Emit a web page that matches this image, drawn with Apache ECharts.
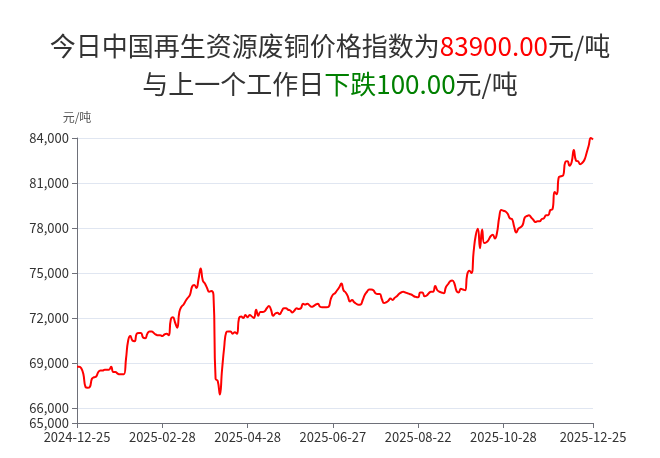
<!DOCTYPE html>
<html>
<head>
<meta charset="utf-8">
<script src="https://cdn.jsdelivr.net/npm/echarts@6/dist/echarts.min.js"></script>
<style>
html,body{margin:0;padding:0;background:#fff;}
#chart{width:660px;height:458px;}
</style>
</head>
<body>
<div id="chart"></div>
<script>
// Trading days (month -> days)
const tradingDays = [
  ["2024-12", [25,26,27,30,31]],
  ["2025-01", [2,3,6,7,8,9,10,13,14,15,16,17,20,21,22,23,24,27]],
  ["2025-02", [5,6,7,10,11,12,13,14,17,18,19,20,21,24,25,26,27,28]],
  ["2025-03", [3,4,5,6,7,10,11,12,13,14,17,18,19,20,21,24,25,26,27,28,31]],
  ["2025-04", [1,2,3,7,8,9,10,11,14,15,16,17,18,21,22,23,24,25,28,29,30]],
  ["2025-05", [6,7,8,9,12,13,14,15,16,19,20,21,22,23,26,27,28,29,30]],
  ["2025-06", [3,4,5,6,9,10,11,12,13,16,17,18,19,20,23,24,25,26,27,30]],
  ["2025-07", [1,2,3,4,7,8,9,10,11,14,15,16,17,18,21,22,23,24,25,28,29,30,31]],
  ["2025-08", [1,4,5,6,7,8,11,12,13,14,15,18,19,20,21,22,25,26,27,28,29]],
  ["2025-09", [1,2,3,4,5,8,9,10,11,12,15,16,17,18,19,22,23,24,25,26,29]],
  ["2025-10", [9,10,13,14,15,16,17,20,21,22,23,24,27,28,29,30,31]],
  ["2025-11", [3,4,5,6,7,10,11,12,13,14,17,18,19,20,21,24,25,26,27,28]],
  ["2025-12", [1,2,3,4,5,8,9,10,11,12,15,16,17,18,19,22,23,24,25]]
];
const categories = [];
tradingDays.forEach(([m, ds]) => ds.forEach(d => categories.push(m + "-" + String(d).padStart(2, "0"))));

const prices = [
  68750,68750,68650,68250,67400,67350,67400,67950,68050,68100,
  68400,68500,68500,68550,68550,68550,68750,68400,68400,68300,
  68250,68250,68250,69300,70500,70800,70500,70450,70950,71000,
  71000,70700,70650,70950,71100,71100,71000,70900,70850,70850,
  70800,70900,70950,70850,71900,72050,71700,71350,72400,72750,
  72900,73150,73350,73550,74100,74200,74000,74600,75300,74500,
  74300,74000,73750,73800,73550,67950,67800,66900,68500,70000,
  71050,71100,71100,70950,71050,70950,72000,72100,72000,72200,
  72050,72200,72100,72000,72550,72150,72400,72400,72450,72650,
  72800,72550,72150,72300,72350,72250,72450,72650,72650,72550,
  72500,72370,72500,72650,72600,72650,72950,72900,72950,72850,
  72750,72800,72900,72950,72750,72720,72720,72720,72750,73250,
  73550,73650,73850,74050,74300,73850,73700,73450,73100,73200,
  73050,72950,72880,72900,73200,73550,73750,73900,73900,73850,
  73650,73600,73600,73250,73000,73050,73150,73300,73200,73350,
  73450,73600,73700,73750,73700,73650,73600,73550,73450,73400,
  73380,73700,73700,73450,73500,73650,73750,73750,74130,73850,
  73750,73700,73650,74050,74250,74450,74500,74300,73800,73700,
  73950,73900,73850,74900,75150,75000,76400,77500,77950,76650,
  77900,77000,77050,77200,77450,77550,77300,77700,78700,79200,
  79150,79100,78950,78650,78600,78100,77700,77950,78050,78200,
  78700,78800,78850,78700,78550,78400,78450,78450,78600,78650,
  78850,78850,79200,79250,80400,80250,81400,81450,81500,82400,
  82450,82150,82400,83200,82500,82450,82250,82350,82550,83000,
  83500,84000,83900
];

const tickLabels = ["2024-12-25","2025-02-28","2025-04-28","2025-06-27","2025-08-22","2025-10-28","2025-12-25"];
const todayPrice = "83900.00";
const changeText = "下跌100.00";
const yMin = 65000, yMax = 84000;

const showTick = (idx, val) => tickLabels.indexOf(val) !== -1;

const chart = echarts.init(document.getElementById('chart'), null, {renderer: 'canvas'});
const font = '"Noto Sans CJK SC", "Noto Sans", sans-serif';
const titleStyle = (color) => ({fontSize: 26, color: color, fontFamily: font, fontWeight: 'normal', lineHeight: 38});
chart.setOption({
  backgroundColor: '#fff',
  animation: false,
  textStyle: {fontFamily: font},
  title: {
    left: 'center',
    top: 22,
    text: '{a|今日中国再生资源废铜价格指数为}{r|' + todayPrice + '}{a|元/吨}\n{a|与上一个工作日}{g|' + changeText + '}{a|元/吨}',
    textStyle: {
      fontFamily: font,
      fontWeight: 'normal',
      fontSize: 26,
      lineHeight: 38,
      rich: {
        a: titleStyle('#333'),
        r: titleStyle('#f00'),
        g: titleStyle('#008000')
      }
    }
  },
  grid: {left: 77, right: 67, top: 138, bottom: 35, containLabel: false},
  xAxis: {
    type: 'category',
    data: categories,
    boundaryGap: false,
    axisLine: {lineStyle: {color: '#6E7079'}},
    axisTick: {interval: showTick, alignWithLabel: true},
    axisLabel: {interval: showTick, color: '#333', fontSize: 13, fontFamily: font, showMaxLabel: true}
  },
  yAxis: {
    type: 'value',
    min: yMin,
    max: yMax,
    name: '元/吨',
    nameTextStyle: {color: '#555', fontSize: 12, fontFamily: font},
    axisLine: {show: true, lineStyle: {color: '#6E7079'}},
    axisTick: {show: true},
    axisLabel: {color: '#333', fontSize: 13, fontFamily: font},
    splitLine: {lineStyle: {color: '#E0E6F1'}}
  },
  series: [{
    type: 'line',
    data: prices,
    showSymbol: false,
    smooth: true,
    lineStyle: {color: '#f00', width: 2},
    itemStyle: {color: '#f00'}
  }]
});
</script>
</body>
</html>
